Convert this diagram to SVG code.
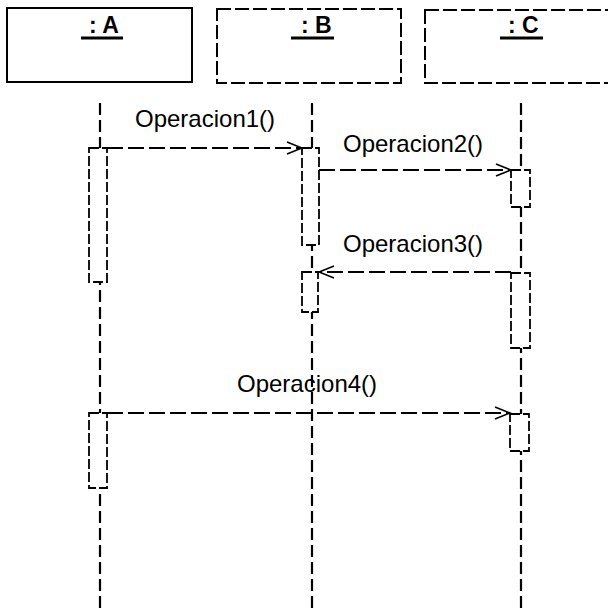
<svg xmlns="http://www.w3.org/2000/svg" width="608" height="608" viewBox="0 0 608 608">
<style>
.obj{fill:#fff;stroke:#000;stroke-width:2}
.dash{stroke-dasharray:14 4}
.lbl{font-family:"Liberation Sans",Arial,sans-serif;font-size:23px;font-weight:bold;fill:#000}
.msg{font-family:"Liberation Sans",Arial,sans-serif;font-size:24px;fill:#000}
.life{stroke:#000;stroke-width:2.2;stroke-dasharray:12 5;fill:none}
.act{fill:#fff;stroke:#000;stroke-width:1.8;stroke-dasharray:10 3}
.m{stroke:#000;stroke-width:2;stroke-dasharray:16 5;fill:none;marker-end:url(#open)}
.ul{stroke:#000;stroke-width:3}
</style>
<defs>
<marker id="open" markerWidth="18" markerHeight="14" refX="16" refY="7" orient="auto" markerUnits="userSpaceOnUse">
<path d="M1,1 L16,7 L1,13" fill="none" stroke="#000" stroke-width="1.6"/>
</marker>
</defs>
<rect width="608" height="608" fill="#fff"/>
<g id="objA">
<rect class="obj" x="7" y="8" width="185" height="74"/>
<text class="lbl" x="89" y="33">: A</text>
<line class="ul" x1="81" y1="38" x2="123" y2="38"/>
</g>
<g id="objB">
<rect class="obj dash" x="217" y="9" width="184" height="74"/>
<text class="lbl" x="301" y="33">: B</text>
<line class="ul" x1="291" y1="38" x2="334" y2="38"/>
</g>
<g id="objC">
<rect class="obj dash" x="425" y="10" width="186" height="73"/>
<text class="lbl" x="508" y="33">: C</text>
<line class="ul" x1="500" y1="38" x2="543" y2="38"/>
</g>
<g id="lifelines">
<line class="life" x1="100" y1="103" x2="100" y2="608"/>
<line class="life" x1="312" y1="103" x2="312" y2="608"/>
<line class="life" x1="521" y1="103" x2="521" y2="608"/>
</g>
<g id="actA1"><rect class="act" x="89" y="148" width="18" height="134"/></g>
<g id="actA2"><rect class="act" x="89" y="413" width="18" height="75"/></g>
<g id="actB1"><rect class="act" x="302" y="148" width="17" height="97"/></g>
<g id="actB2"><rect class="act" x="302" y="272" width="16" height="40"/></g>
<g id="actC1"><rect class="act" x="511" y="170" width="19" height="37"/></g>
<g id="actC2"><rect class="act" x="511" y="273" width="19" height="75"/></g>
<g id="actC3"><rect class="act" x="510" y="414" width="19" height="37"/></g>
<g id="connectors">
<line class="m" x1="107" y1="148" x2="302" y2="148"/>
<line class="m" x1="319" y1="170" x2="511" y2="170"/>
<line class="m" x1="511" y1="272" x2="319" y2="272"/>
<line class="m" x1="107" y1="413" x2="510" y2="413"/>
</g>
<g id="labels">
<text class="msg" x="135" y="127">Operacion1()</text>
<text class="msg" x="343" y="152">Operacion2()</text>
<text class="msg" x="343" y="252">Operacion3()</text>
<text class="msg" x="237" y="392">Operacion4()</text>
</g>
</svg>
